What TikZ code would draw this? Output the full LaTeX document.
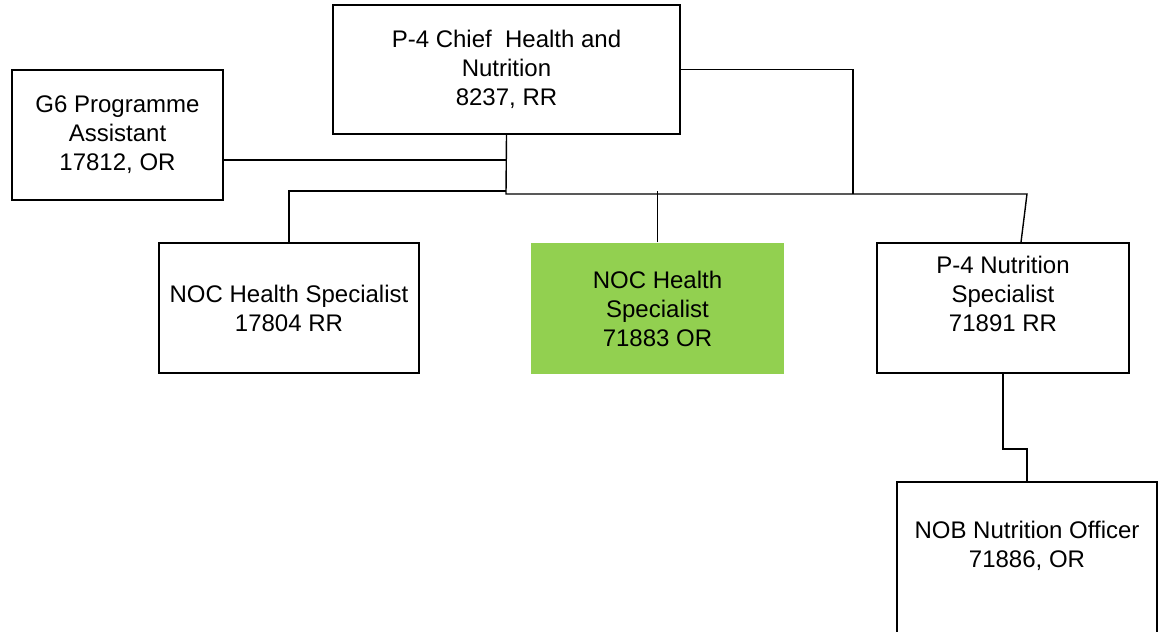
\documentclass[tikz,border=0pt]{standalone}
\usepackage{fontspec}
\setmainfont{Liberation Sans}
\definecolor{postgreen}{HTML}{92D050}
\tikzset{
  post/.style={draw,line width=0.7pt,align=center,inner sep=0pt},
  link/.style={line width=0.7pt}
}
\begin{document}
\begin{tikzpicture}[x=0.5pt,y=-0.5pt,font=\fontsize{12}{14.5}\selectfont]
  \useasboundingbox (0,0) rectangle (1169,632);
  \clip (0,0) rectangle (1169,632);
  % posts
  \node[post,minimum width=173.5pt,minimum height=64.5pt] (chief) at (506.5,69.5)
    {P-4 Chief\ \ Health and\\Nutrition\\8237, RR};
  \node[post,minimum width=105.5pt,minimum height=65pt] (assist) at (117.5,135)
    {G6 Programme\\Assistant\\17812, OR};
  \node[post,minimum width=130pt,minimum height=65pt] (hspecA) at (289,308)
    {NOC Health Specialist\\17804 RR};
  \node[post,draw=none,fill=postgreen,minimum width=126.5pt,minimum height=65.5pt] (hspecB) at (657.5,308.5)
    {NOC Health\\Specialist\\71883 OR};
  \node[post,minimum width=126pt,minimum height=65pt] (nutr) at (1003,308)
    {P-4 Nutrition\\Specialist\\71891 RR\\\mbox{}};
  \node[post,minimum width=130pt,minimum height=91.5pt] (nob) at (1027,573.5)
    {NOB Nutrition Officer\\71886, OR\\\mbox{}\\\mbox{}};
  % lines
  \coordinate (bus) at (506,194);
  \coordinate (busend) at (1027,194);
  \coordinate (tap) at (853,194);
  \coordinate (assisttap) at (506,160);
  \coordinate (hbus) at (506,191);
  \coordinate (nutrin) at (1021,243);
  \coordinate (knee) at (1003,449);
  \draw[link] (chief.south) -- (bus) -- (busend) -- (nutr.north -| nutrin);
  \draw[link] (chief.east) -| (tap);
  \draw[link] (assist.east |- assisttap) -- (assisttap);
  \draw[link] (hbus) -| (hspecA.north);
  \draw[link] (hspecB.north) -- (hspecB.north |- hbus);
  \draw[link] (nutr.south) -- (knee) -| (nob.north);
\end{tikzpicture}
\end{document}
